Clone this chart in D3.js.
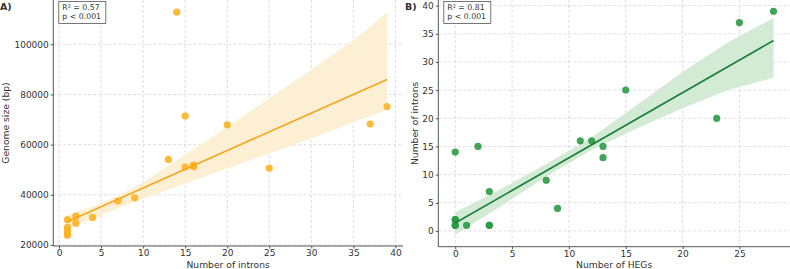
<!DOCTYPE html>
<html>
<head>
<meta charset="utf-8">
<script src="https://cdn.jsdelivr.net/npm/d3@7"></script>
<style>
  body { margin: 0; background: #fff; }
  svg text { font-family: "DejaVu Sans", sans-serif; }
</style>
</head>
<body>
<svg id="chart" width="790" height="269"></svg>
<script>
// panel A: introns vs genome size
var intronsA = [1, 1, 1, 1, 1, 2, 2, 4, 7, 9, 13, 14, 15, 15, 16, 16, 20, 25, 37, 39];
var genomeSize = [30100, 27000, 25600, 24600, 23900, 31500, 28700, 31000, 37500, 38800,
                  54100, 112800, 71400, 51100, 51800, 51200, 67900, 50700, 68200, 75200];
var fitA = [[1, 29300], [39, 86000]];
var bandA = [[1, 26600, 32000], [4, 30500, 35300], [7, 34600, 39600], [10, 38400, 45000],
             [15, 44500, 56000], [20, 50500, 67000], [25, 56500, 78500], [30, 62500, 90000],
             [35, 68800, 101500], [39, 73800, 112800]];
var statsA = ["R\u00b2 = 0.57", "p < 0.001"];

// panel B: HEGs vs introns
var hegs = [0, 0, 0, 0, 0, 1, 2, 3, 3, 3, 8, 9, 11, 12, 13, 13, 15, 23, 25, 28];
var intronsB = [14, 2, 2, 1, 1, 1, 15, 7, 1, 1, 9, 4, 16, 16, 15, 13, 25, 20, 37, 39];
var fitB = [[0, 1.4], [28, 33.8]];
var bandB = [[0, -0.7, 3.3], [4, 4.4, 7.4], [8, 9.6, 11.9], [12, 14.4, 16.6], [16, 18.2, 22.4],
             [20, 21.8, 28.2], [24, 25.0, 33.5], [28, 27.2, 37.8]];
var statsB = ["R\u00b2 = 0.81", "p < 0.001"];

var ticksA_x = [0, 5, 10, 15, 20, 25, 30, 35, 40];
var ticksA_y = [20000, 40000, 60000, 80000, 100000];
var ticksB_x = [0, 5, 10, 15, 20, 25];
var ticksB_y = [0, 5, 10, 15, 20, 25, 30, 35, 40];

var svg = d3.select("#chart");

function panel(opt) {
  var x = d3.scaleLinear().domain(opt.xdom).range([opt.left, opt.right]);
  var y = d3.scaleLinear().domain(opt.ydom).range([opt.bottom, opt.top]);
  var g = svg.append("g");

  // grid
  g.selectAll(".gx").data(opt.xt).enter().append("line")
    .attr("x1", d => x(d)).attr("x2", d => x(d))
    .attr("y1", opt.top).attr("y2", opt.bottom)
    .attr("stroke", "#d0d0d0").attr("stroke-width", 0.7).attr("stroke-dasharray", "3,2");
  g.selectAll(".gy").data(opt.yt).enter().append("line")
    .attr("x1", opt.left).attr("x2", opt.right)
    .attr("y1", d => y(d)).attr("y2", d => y(d))
    .attr("stroke", "#d0d0d0").attr("stroke-width", 0.7).attr("stroke-dasharray", "3,2");

  // confidence band
  var area = d3.area()
    .x(d => x(d[0])).y0(d => y(d[1])).y1(d => y(d[2]));
  g.append("path").datum(opt.band).attr("d", area)
    .attr("fill", opt.bandColor);

  // points
  g.selectAll(".pt").data(opt.xs).enter().append("circle")
    .attr("cx", d => x(d)).attr("cy", (d, i) => y(opt.ys[i]))
    .attr("r", 3.6).attr("fill", opt.ptColor).attr("fill-opacity", 0.9);

  // fit line
  g.append("path").datum(opt.fit)
    .attr("d", d3.line().x(d => x(d[0])).y(d => y(d[1])))
    .attr("stroke", opt.lineColor).attr("stroke-width", 1.6).attr("fill", "none");

  // axes
  var ax = g.append("g").attr("transform", "translate(0," + opt.bottom + ")")
    .call(d3.axisBottom(x).tickValues(opt.xt).tickSize(2.5).tickSizeOuter(0).tickPadding(1));
  var ay = g.append("g").attr("transform", "translate(" + opt.left + ",0)")
    .call(d3.axisLeft(y).tickValues(opt.yt).tickSize(2.5).tickSizeOuter(0).tickPadding(2).tickFormat(d3.format("d")));
  [ax, ay].forEach(function(a) {
    a.select(".domain").attr("stroke", "#555").attr("stroke-width", 1)
      .attr("d", a === ax ? "M" + opt.left + ",0H" + opt.right : "M0," + opt.bottom + "V" + opt.top);
    a.selectAll(".tick line").attr("stroke", "#555");
    a.selectAll(".tick text").attr("fill", "#333").style("font-size", "9px");
  });

  // axis titles
  g.append("text").attr("x", (opt.left + opt.right) / 2).attr("y", 268)
    .attr("text-anchor", "middle").attr("fill", "#333").style("font-size", "9.2px").text(opt.xlabel);
  g.append("text").attr("transform", "translate(" + opt.ylabelX + "," + ((opt.top + opt.bottom) / 2) + ") rotate(-90)")
    .attr("text-anchor", "middle").attr("fill", "#333").style("font-size", "9.2px").text(opt.ylabel);

  // panel tag
  g.append("text").attr("x", opt.tagX).attr("y", 10).attr("font-weight", "bold")
    .attr("fill", "#333").style("font-size", "9.5px").text(opt.tag);

  // stats box
  g.append("rect").attr("x", opt.left + 5.5).attr("y", 1.5).attr("width", 47).attr("height", 22)
    .attr("fill", "#fff").attr("stroke", "#555").attr("stroke-width", 0.8);
  g.selectAll(".st").data(opt.stats).enter().append("text")
    .attr("x", opt.left + 9).attr("y", (d, i) => 10 + i * 9)
    .attr("fill", "#333").style("font-size", "7.8px").text(d => d);
}

panel({
  left: 53.3, right: 403, top: 0, bottom: 246,
  xdom: [-0.68, 40.9], ydom: [19600, 117660],
  xt: ticksA_x, yt: ticksA_y,
  xs: intronsA, ys: genomeSize, fit: fitA, band: bandA,
  ptColor: "#fbb322", lineColor: "#f7a51c", bandColor: "#fdefd4",
  xlabel: "Number of introns", ylabel: "Genome size (bp)", ylabelX: 9,
  tag: "A)", tagX: 0, stats: statsA
});

panel({
  left: 438.3, right: 790, top: 0, bottom: 246.7,
  xdom: [-1.49, 29.45], ydom: [-2.8, 41.0],
  xt: ticksB_x, yt: ticksB_y,
  xs: hegs, ys: intronsB, fit: fitB, band: bandB,
  ptColor: "#2a9a44", lineColor: "#1a7f37", bandColor: "#d3ead5",
  xlabel: "Number of HEGs", ylabel: "Number of introns", ylabelX: 418,
  tag: "B)", tagX: 405, stats: statsB
});
</script>
</body>
</html>
